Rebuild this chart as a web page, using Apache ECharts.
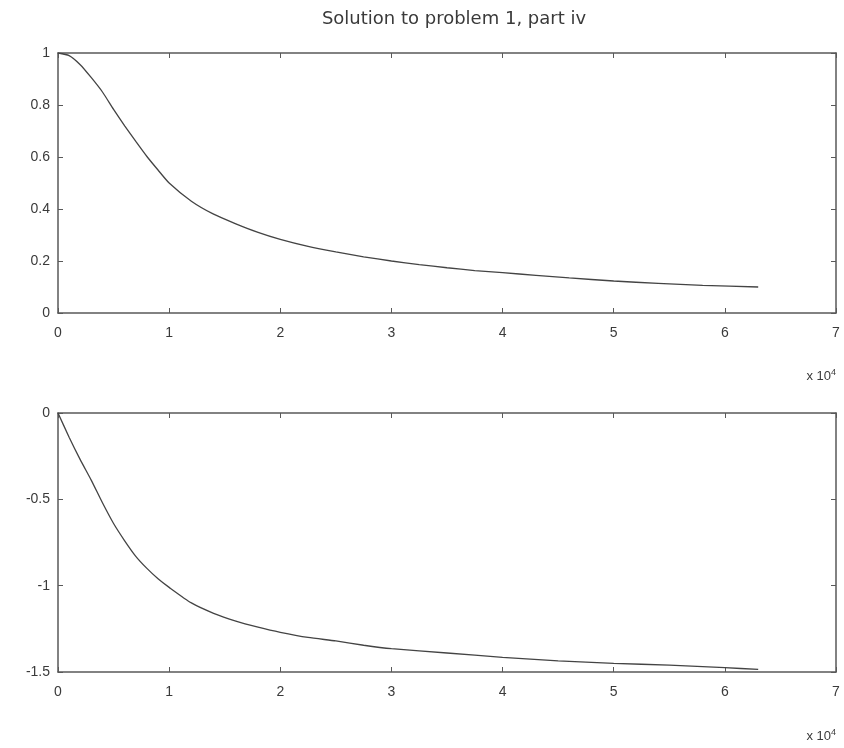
<!DOCTYPE html>
<html>
<head>
<meta charset="utf-8">
<script src="https://cdn.jsdelivr.net/npm/echarts@6/dist/echarts.min.js"></script>
<style>
  html, body { margin: 0; padding: 0; background: #fff; }
  #chart { width: 844px; height: 748px; }
</style>
</head>
<body>
<div id="chart"></div>
<script>
  // x in units of 10^4
  var xTop = [0, 0.1, 0.2, 0.3, 0.4, 0.5, 0.6, 0.7, 0.8, 0.9, 1.0, 1.2, 1.4, 1.6, 1.8, 2.0,
              2.25, 2.5, 2.75, 3.0, 3.25, 3.5, 3.75, 4.0, 4.3, 4.6, 5.0, 5.4, 5.8, 6.3];
  var yTop = [1.0, 0.99, 0.955, 0.905, 0.85, 0.783, 0.72, 0.66, 0.602, 0.55, 0.5, 0.43, 0.38, 0.343, 0.31, 0.283,
              0.256, 0.235, 0.216, 0.2, 0.186, 0.174, 0.163, 0.155, 0.145, 0.135, 0.123, 0.114, 0.106, 0.1];
  var xBot = [0, 0.1, 0.2, 0.3, 0.4, 0.5, 0.6, 0.7, 0.8, 0.9, 1.0, 1.2, 1.4, 1.6, 1.8, 2.0,
              2.25, 2.5, 2.75, 3.0, 3.5, 4.0, 4.5, 5.0, 5.5, 6.0, 6.3];
  var yBot = [0, -0.14, -0.27, -0.39, -0.52, -0.64, -0.74, -0.83, -0.9, -0.96, -1.01, -1.1, -1.16, -1.205, -1.24, -1.27,
              -1.3, -1.32, -1.345, -1.365, -1.39, -1.415, -1.435, -1.45, -1.46, -1.475, -1.485];
  var titleText = 'Solution to problem 1, part iv';

  function pairs(xs, ys) {
    var out = [];
    for (var i = 0; i < xs.length; i++) out.push([xs[i], ys[i]]);
    return out;
  }

  var axisCol = '#595959';
  var textCol = '#3a3a3a';
  var font = '"Liberation Sans", Arial, sans-serif';

  function xAx(grid, pos, labels) {
    return {
      type: 'value', gridIndex: grid, position: pos, min: 0, max: 7, interval: 1,
      axisLine: { onZero: false, lineStyle: { color: axisCol, width: 1.5 } },
      axisTick: { inside: true, length: 5, lineStyle: { color: axisCol } },
      axisLabel: { show: labels, color: textCol, fontSize: 14, fontFamily: font, margin: 13 },
      splitLine: { show: false }
    };
  }
  function yAx(grid, pos, min, max, step, labels) {
    return {
      type: 'value', gridIndex: grid, position: pos, min: min, max: max, interval: step,
      axisLine: { show: true, onZero: false, lineStyle: { color: axisCol, width: 1.5 } },
      axisTick: { show: true, inside: true, length: 5, lineStyle: { color: axisCol } },
      axisLabel: { show: labels, color: textCol, fontSize: 14, fontFamily: font, margin: 8 },
      splitLine: { show: false }
    };
  }

  function powerLabel(top) {
    return {
      type: 'text', right: 8, top: top,
      style: {
        text: 'x 10{s|4}', fill: textCol, font: '13px ' + font,
        rich: { s: { fontSize: 9, verticalAlign: 'top', padding: [0, 0, 8, 0] } }
      }
    };
  }

  var chart = echarts.init(document.getElementById('chart'));
  var option = {
    animation: false,
    backgroundColor: '#fff',
    title: {
      text: titleText, left: 449, top: 5, textAlign: 'center',
      textStyle: { fontSize: 18, fontWeight: 'normal', color: textCol, fontFamily: '"DejaVu Sans", sans-serif' }
    },
    grid: [
      { left: 58, right: 8, top: 53, height: 260 },
      { left: 58, right: 8, top: 413, height: 259 }
    ],
    xAxis: [
      xAx(0, 'bottom', true), xAx(0, 'top', false),
      xAx(1, 'bottom', true), xAx(1, 'top', false)
    ],
    yAxis: [
      yAx(0, 'left', 0, 1, 0.2, true), yAx(0, 'right', 0, 1, 0.2, false),
      yAx(1, 'left', -1.5, 0, 0.5, true), yAx(1, 'right', -1.5, 0, 0.5, false)
    ],
    graphic: [powerLabel(368), powerLabel(728)],
    series: [
      {
        type: 'line', xAxisIndex: 0, yAxisIndex: 0, data: pairs(xTop, yTop),
        smooth: 0.2, showSymbol: false, lineStyle: { color: '#444', width: 1.3 }
      },
      {
        type: 'line', xAxisIndex: 2, yAxisIndex: 2, data: pairs(xBot, yBot),
        smooth: 0.2, showSymbol: false, lineStyle: { color: '#444', width: 1.3 }
      }
    ]
  };
  chart.setOption(option);
</script>
</body>
</html>
